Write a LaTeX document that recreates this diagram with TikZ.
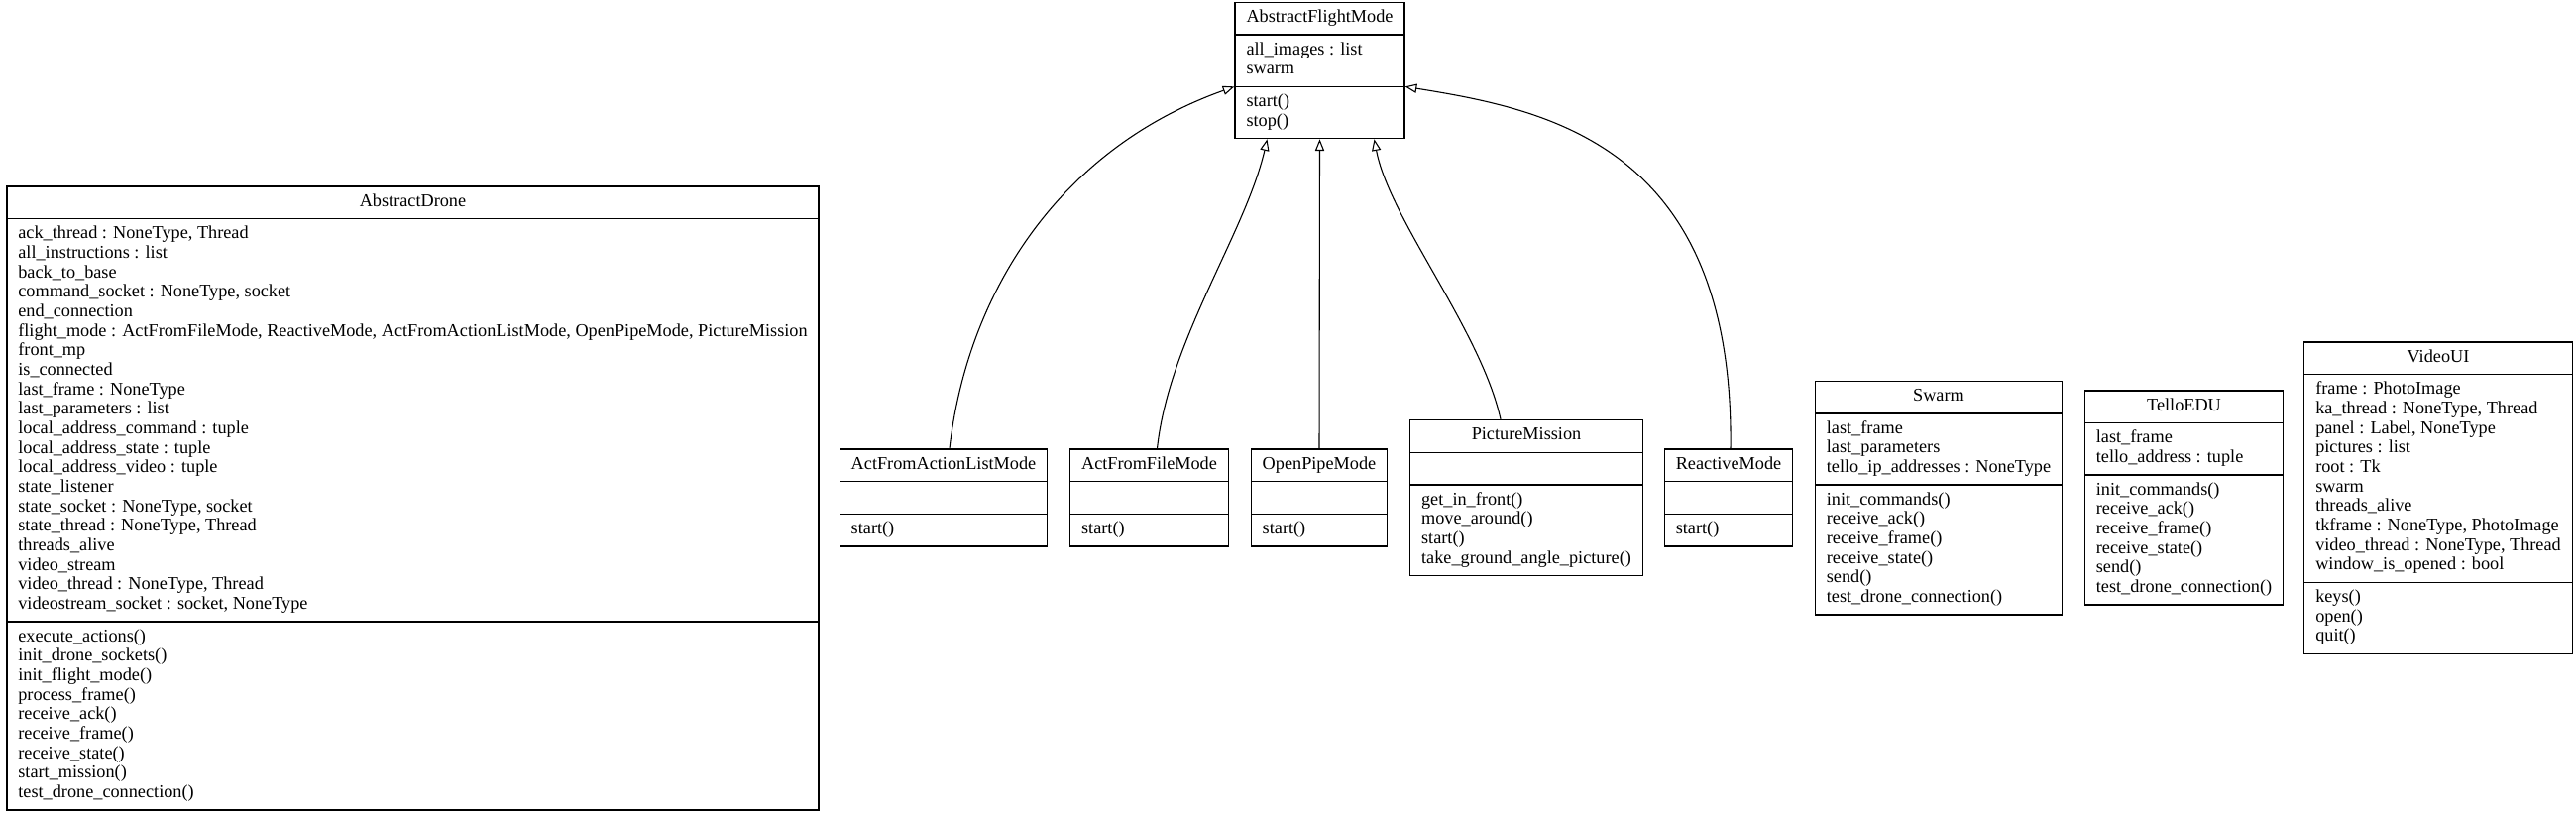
\documentclass[tikz,border=0pt]{standalone}
\usepackage{fontspec}
\setmainfont{Liberation Serif}
\usetikzlibrary{shapes.multipart, arrows.meta, calc}

\newcommand{\members}[1]{\begin{tabular}{@{}l@{}}#1\end{tabular}}

\begin{document}
\begin{tikzpicture}[x=0.6pt, y=-0.6pt,
	umlclass/.style={rectangle split, rectangle split parts=3, draw, line width=0.8pt,
		rectangle split part align={center,left,left}, inner xsep=6.9pt, inner ysep=3.5pt,
		font=\fontsize{10.95}{11.8}\selectfont},
	inherit/.style={-{Triangle[open, length=7pt, width=5.5pt]}, line width=0.65pt}]
	\useasboundingbox (0,0) rectangle (2599,825);

	\node[umlclass] (afm) at (1331.5,71) {\strut AbstractFlightMode
		\nodepart{two}\members{all\_images : list\\ swarm}
		\nodepart{three}\members{start()\\ stop()}};

	\node[umlclass] (drone) at (416.5,502.5) {\strut AbstractDrone
		\nodepart{two}\members{ack\_thread : NoneType, Thread\\ all\_instructions : list\\ back\_to\_base\\
			command\_socket : NoneType, socket\\ end\_connection\\
			flight\_mode : ActFromFileMode, ReactiveMode, ActFromActionListMode, OpenPipeMode, PictureMission\\
			front\_mp\\ is\_connected\\ last\_frame : NoneType\\ last\_parameters : list\\
			local\_address\_command : tuple\\ local\_address\_state : tuple\\ local\_address\_video : tuple\\
			state\_listener\\ state\_socket : NoneType, socket\\ state\_thread : NoneType, Thread\\
			threads\_alive\\ video\_stream\\ video\_thread : NoneType, Thread\\ videostream\_socket : socket, NoneType}
		\nodepart{three}\members{execute\_actions()\\ init\_drone\_sockets()\\ init\_flight\_mode()\\
			process\_frame()\\ receive\_ack()\\ receive\_frame()\\ receive\_state()\\ start\_mission()\\
			test\_drone\_connection()}};

	\node[umlclass] (afal) at (952,502) {\strut ActFromActionListMode
		\nodepart{two}\strut
		\nodepart{three}\members{start()}};
	\node[umlclass] (aff) at (1159.5,502) {\strut ActFromFileMode
		\nodepart{two}\strut
		\nodepart{three}\members{start()}};
	\node[umlclass] (opm) at (1331,502) {\strut OpenPipeMode
		\nodepart{two}\strut
		\nodepart{three}\members{start()}};
	\node[umlclass] (pm) at (1540,502) {\strut PictureMission
		\nodepart{two}\strut
		\nodepart{three}\members{get\_in\_front()\\ move\_around()\\ start()\\ take\_ground\_angle\_picture()}};
	\node[umlclass] (rm) at (1744,502) {\strut ReactiveMode
		\nodepart{two}\strut
		\nodepart{three}\members{start()}};

	\node[umlclass] (swarm) at (1956,502) {\strut Swarm
		\nodepart{two}\members{last\_frame\\ last\_parameters\\ tello\_ip\_addresses : NoneType}
		\nodepart{three}\members{init\_commands()\\ receive\_ack()\\ receive\_frame()\\ receive\_state()\\
			send()\\ test\_drone\_connection()}};
	\node[umlclass] (tello) at (2203.5,502) {\strut TelloEDU
		\nodepart{two}\members{last\_frame\\ tello\_address : tuple}
		\nodepart{three}\members{init\_commands()\\ receive\_ack()\\ receive\_frame()\\ receive\_state()\\
			send()\\ test\_drone\_connection()}};
	\node[umlclass] (ui) at (2460,502) {\strut VideoUI
		\nodepart{two}\members{frame : PhotoImage\\ ka\_thread : NoneType, Thread\\ panel : Label, NoneType\\
			pictures : list\\ root : Tk\\ swarm\\ threads\_alive\\ tkframe : NoneType, PhotoImage\\
			video\_thread : NoneType, Thread\\ window\_is\_opened : bool}
		\nodepart{three}\members{keys()\\ open()\\ quit()}};

	% inheritance
	\draw[inherit] ($(afal.north)+(6,0)$) .. controls +(18,-157) and +(-177,63) .. (afm.two split west);
	\draw[inherit] ($(aff.north)+(8,0)$) .. controls +(12,-110) and +(-22,95) .. ($(afm.south)+(-53,0)$);
	\draw[inherit] (opm.north) -- (afm.south);
	\draw[inherit] ($(pm.north)+(-26,0)$) .. controls +(-20,-90) and +(15,80) .. ($(afm.south)+(55,0)$);
	\draw[inherit] ($(rm.north)+(2,0)$) .. controls +(4,-306) and +(143,23) .. (afm.two split east);
\end{tikzpicture}
\end{document}
